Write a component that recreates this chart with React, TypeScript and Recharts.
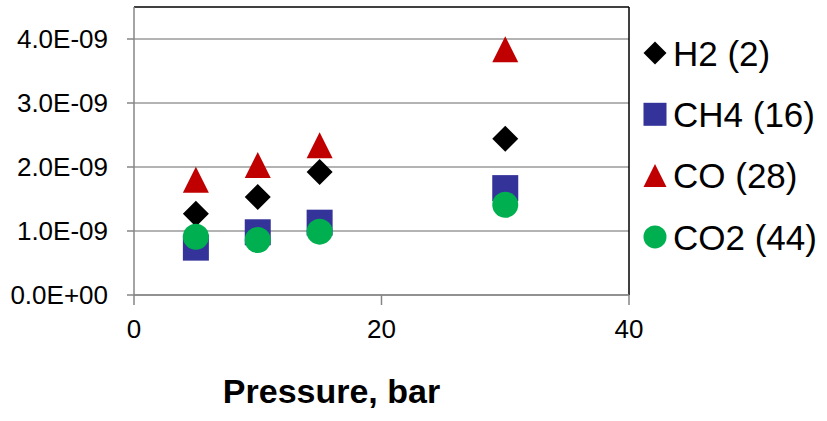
import { ScatterChart, Scatter, XAxis, YAxis, CartesianGrid, ReferenceLine, Label } from 'recharts'

// diffusion coefficients vs. pressure, one series per gas
const pressure = [5, 10, 15, 30]
const h2 = [1.27e-9, 1.53e-9, 1.92e-9, 2.44e-9]
const ch4 = [0.74e-9, 0.98e-9, 1.13e-9, 1.67e-9]
const co = [1.8e-9, 2.03e-9, 2.34e-9, 3.84e-9]
const co2 = [0.91e-9, 0.86e-9, 0.99e-9, 1.41e-9]

const xTicks = [0, 20, 40]
const yTicks = [0, 1e-9, 2e-9, 3e-9, 4e-9]
const yMax = 4.5e-9

const FONT = '"Liberation Sans", Arial, sans-serif'
const AXIS_GRAY = '#868686'

const toPoints = (vals: number[]) => pressure.map((p, i) => ({ x: p, y: vals[i] }))

// Excel-style scientific notation: 1.0E-09, 0.0E+00
const sci = (v: number) => {
  if (v === 0) return '0.0E+00'
  const [m, e] = v.toExponential(1).split('e')
  const n = parseInt(e, 10)
  const sign = n < 0 ? '-' : '+'
  return `${m}E${sign}${String(Math.abs(n)).padStart(2, '0')}`
}

type Mk = 'diamond' | 'square' | 'triangle' | 'circle'

function marker(kind: Mk, cx: number, cy: number, s: number, fill: string) {
  const h = s / 2
  if (kind === 'diamond')
    return <polygon points={`${cx},${cy - h} ${cx + h},${cy} ${cx},${cy + h} ${cx - h},${cy}`} fill={fill} />
  if (kind === 'square') return <rect x={cx - h} y={cy - h} width={s} height={s} fill={fill} />
  if (kind === 'triangle')
    return <polygon points={`${cx},${cy - h} ${cx + h},${cy + h} ${cx - h},${cy + h}`} fill={fill} />
  return <circle cx={cx} cy={cy} r={h} fill={fill} />
}

const SERIES: { name: string; data: number[]; kind: Mk; color: string }[] = [
  { name: 'H2 (2)', data: h2, kind: 'diamond', color: '#000000' },
  { name: 'CH4 (16)', data: ch4, kind: 'square', color: '#333399' },
  { name: 'CO (28)', data: co, kind: 'triangle', color: '#C00000' },
  { name: 'CO2 (44)', data: co2, kind: 'circle', color: '#00B050' },
]

// legend sits to the right of the plot, outside the chart's layout
const SideLegend = () => (
  <svg width={187} height={250} style={{ position: 'absolute', left: 640, top: 22 }}>
    {SERIES.map((s, i) => {
      const cy = 31 + i * 61.3
      return (
        <g key={s.name}>
          {marker(s.kind, 15, cy, 23, s.color)}
          <text x={33} y={cy} dy="0.36em" fontSize={35} fontFamily={FONT} fill="#000">
            {s.name}
          </text>
        </g>
      )
    })}
  </svg>
)

export default function App() {
  return (
    <div style={{ position: 'absolute', left: 0, top: 0, width: 827, height: 421, background: '#fff' }}>
      <ScatterChart width={827} height={421} margin={{ top: 7, right: 198, bottom: 0, left: 0 }} style={{ fontFamily: FONT }}>
        <CartesianGrid vertical={false} stroke="#9a9a9a" strokeWidth={1.5} horizontalValues={yTicks} />
        <XAxis
          type="number"
          dataKey="x"
          domain={[0, 40]}
          ticks={xTicks}
          height={126}
          stroke={AXIS_GRAY}
          strokeWidth={1.5}
          tickSize={10}
          tickMargin={15}
          tick={{ fill: '#000', fontSize: 26 }}
        >
          <Label
            content={({ viewBox }: any) => (
              <text
                x={viewBox.x + viewBox.width / 2 - 50}
                y={viewBox.y + 108}
                textAnchor="middle"
                fontSize={34}
                fontWeight="bold"
                fontFamily={FONT}
                fill="#000"
              >
                Pressure, bar
              </text>
            )}
          />
        </XAxis>
        <YAxis
          type="number"
          dataKey="y"
          domain={[0, yMax]}
          ticks={yTicks}
          width={134}
          stroke={AXIS_GRAY}
          strokeWidth={1.5}
          tickSize={7}
          tickMargin={19}
          tickFormatter={sci}
          tick={{ fill: '#000', fontSize: 26 }}
        />
        <ReferenceLine y={yMax} stroke="#000" strokeWidth={1.5} />
        <ReferenceLine x={40} stroke="#000" strokeWidth={1.5} />
        {SERIES.map((s) => (
          <Scatter
            key={s.name}
            name={s.name}
            data={toPoints(s.data)}
            isAnimationActive={false}
            shape={(p: any) => marker(s.kind, p.cx, p.cy, 26, s.color)}
          />
        ))}
      </ScatterChart>
      <SideLegend />
    </div>
  )
}
